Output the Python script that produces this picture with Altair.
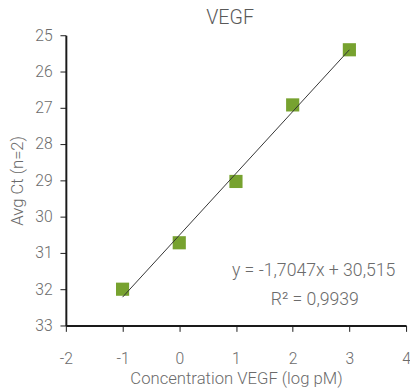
import altair as alt
import pandas as pd

conc = [-1, 0, 1, 2, 3]
avg_ct = [32.0, 30.72, 29.03, 26.92, 25.4]

trend_x = [-1, 3]
trend_y = [32.22, 25.40]

ann_text = ["y = -1,7047x + 30,515", "R² = 0,9939"]
ann_x = [2.37, 2.39]
ann_y = [31.49, 32.30]

x_ticks = [-2, -1, 0, 1, 2, 3, 4]
y_ticks = [25, 26, 27, 28, 29, 30, 31, 32, 33]

pts = pd.DataFrame({"x": conc, "y": avg_ct})
trend = pd.DataFrame({"x": trend_x, "y": trend_y})
ann = pd.DataFrame({"x": ann_x, "y": ann_y, "t": ann_text})

FONT = "Roboto"
GRAY = "#6b6b6b"

xs = alt.Scale(domain=[-2, 4], nice=False, zero=False)
ys = alt.Scale(domain=[25, 33], reverse=True, nice=False, zero=False)

xaxis = alt.Axis(values=x_ticks, grid=False, domainColor="#1a1a1a",
                 domainWidth=2, tickColor="#1a1a1a", tickSize=6, tickWidth=1,
                 labelFontSize=16, labelColor=GRAY, labelFont=FONT, labelFontWeight=300,
                 labelPadding=20, labelOverlap=False, labelFlush=False,
                 labelExpr="'' + datum.value",
                 titleFontSize=17, titleColor=GRAY, titleFont=FONT, titleFontWeight=300,
                 titlePadding=4)
yaxis = alt.Axis(values=y_ticks, grid=False, domainColor="#1a1a1a",
                 domainWidth=2, tickColor="#1a1a1a", tickSize=6, tickWidth=1,
                 labelFontSize=16, labelColor=GRAY, labelFont=FONT, labelFontWeight=300,
                 labelPadding=8, labelOverlap=False, labelFlush=False,
                 labelExpr="'' + datum.value",
                 titleFontSize=17, titleColor=GRAY, titleFont=FONT, titleFontWeight=300,
                 titlePadding=8)

X = alt.X("x:Q", scale=xs, axis=xaxis, title="Concentration VEGF (log pM)")
Y = alt.Y("y:Q", scale=ys, axis=yaxis, title="Avg Ct (n=2)")

points = alt.Chart(pts).mark_square(size=180, color="#77a22f", opacity=1).encode(x=X, y=Y)

line = alt.Chart(trend).mark_line(color="#333333", strokeWidth=1).encode(x=X, y=Y)

text = alt.Chart(ann).mark_text(fontSize=18, color=GRAY, font=FONT, fontWeight=300,
                                align="center", baseline="middle").encode(x=X, y=Y, text="t:N")

chart = alt.layer(points, line, text).properties(
    width=347, height=296,
    title=alt.TitleParams("VEGF", fontSize=20, color="#595959", font=FONT,
                          fontWeight=300, anchor="middle", offset=-1, dx=-6),
    autosize=alt.AutoSizeParams(type="none"),
    padding={"left": 59, "top": 24, "right": 4, "bottom": 62},
).configure_view(stroke=None)

chart.save("out.html", embed_options={"renderer": "svg", "actions": False})
